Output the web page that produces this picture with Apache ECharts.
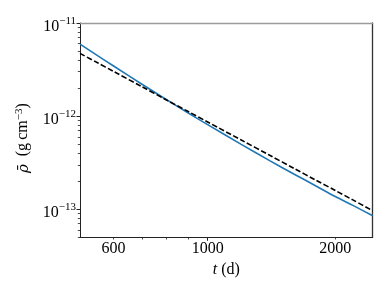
<!DOCTYPE html>
<html><head><meta charset="utf-8">
<script src="https://cdn.jsdelivr.net/npm/echarts@6/dist/echarts.min.js"></script>
<style>html,body{margin:0;padding:0;background:#fff}#c{width:390px;height:293px}</style>
</head><body><div id="c"></div>
<script>
// Data (t in days, mean density in g cm^-3)
const tDays = [500, 550, 600, 700, 800, 900, 1000, 1200, 1400, 1600, 1800, 2000, 2200, 2450];
const rhoBlue = [5.94e-12, 4.46e-12, 3.45e-12, 2.20e-12, 1.50e-12, 1.08e-12, 8.11e-13, 4.98e-13, 3.33e-13, 2.38e-13, 1.78e-13, 1.37e-13, 1.10e-13, 8.52e-14];
const rhoDashed = [4.72e-12, 3.74e-12, 3.02e-12, 2.07e-12, 1.49e-12, 1.12e-12, 8.65e-13, 5.54e-13, 3.80e-13, 2.74e-13, 2.05e-13, 1.59e-13, 1.26e-13, 9.65e-14];

const xRange = [500, 2450];
const yRange = [5e-14, 1e-11];
const xMajorTicks = [1000];
const xMinorTicks = [600, 700, 800, 900, 2000];
const xTickLabels = [600, 1000, 2000];
const yMajorTicks = [1e-11, 1e-12, 1e-13];
const yMinorTicks = [9e-12, 8e-12, 7e-12, 6e-12, 5e-12, 4e-12, 3e-12, 2e-12,
                     9e-13, 8e-13, 7e-13, 6e-13, 5e-13, 4e-13, 3e-13, 2e-13,
                     9e-14, 8e-14, 7e-14, 6e-14, 5e-14];

const FONT = "'Liberation Serif', 'DejaVu Serif', serif";
const AX = '#222';

const chart = echarts.init(document.getElementById('c'), null, {renderer: 'canvas'});

const baseX = {type: 'log', logBase: 10, min: xRange[0], max: xRange[1], gridIndex: 0,
  splitLine: {show: false}, minorTick: {show: false}, minorSplitLine: {show: false}};
const baseY = {type: 'log', logBase: 10, min: yRange[0], max: yRange[1], gridIndex: 0,
  splitLine: {show: false}, minorTick: {show: false}, minorSplitLine: {show: false}};

chart.setOption({
  animation: false,
  backgroundColor: '#fff',
  grid: {left: 80, top: 23, right: 17.3, bottom: 55.7, containLabel: false},
  xAxis: [
    Object.assign({}, baseX, {
      position: 'bottom',
      axisLine: {show: true, lineStyle: {color: AX, width: 1}},
      axisTick: {show: true, inside: false, length: 3.5, customValues: xMajorTicks, lineStyle: {color: AX, width: 1}},
      axisLabel: {show: true, customValues: xTickLabels, margin: 3, fontFamily: FONT, fontSize: 16, color: '#000',
        formatter: v => String(Math.round(v))},
      name: '{i|t} (d)', nameLocation: 'middle', nameGap: 24,
      nameTextStyle: {fontFamily: FONT, fontSize: 16, color: '#000',
        rich: {i: {fontFamily: FONT, fontSize: 16, fontStyle: 'italic', color: '#000'}}}
    }),
    Object.assign({}, baseX, {
      position: 'top',
      axisLine: {show: true, lineStyle: {color: '#9a9a9a', width: 1.3}},
      axisTick: {show: false}, axisLabel: {show: false}
    }),
    Object.assign({}, baseX, {
      position: 'bottom',
      axisLine: {show: false},
      axisTick: {show: true, length: 2.2, customValues: xMinorTicks, lineStyle: {color: AX, width: 0.8}},
      axisLabel: {show: false}
    })
  ],
  yAxis: [
    Object.assign({}, baseY, {
      position: 'left',
      axisLine: {show: true, lineStyle: {color: AX, width: 1}},
      axisTick: {show: true, length: 3.5, customValues: yMajorTicks, lineStyle: {color: AX, width: 1}},
      axisLabel: {show: true, customValues: yMajorTicks, margin: 4, padding: [4, 0, 0, 0],
        formatter: v => '{b|10}{s|\u2212' + Math.abs(Math.round(Math.log10(v))) + '}',
        rich: {
          b: {fontFamily: FONT, fontSize: 16, color: '#000', verticalAlign: 'bottom'},
          s: {fontFamily: FONT, fontSize: 11, color: '#000', verticalAlign: 'bottom', padding: [0, 0, 8, 0]}
        }},
      name: '{i|\u03C1\u0304}  (g\u2009cm{s|\u22123}){sp|}', nameLocation: 'middle', nameRotate: 90, nameGap: 43,
      nameTextStyle: {fontFamily: FONT, fontSize: 16, color: '#000',
        rich: {
          i: {fontFamily: "'DejaVu Serif', serif", fontSize: 15, fontStyle: 'italic', color: '#000', verticalAlign: 'bottom'},
          s: {fontFamily: FONT, fontSize: 11, color: '#000', verticalAlign: 'bottom', padding: [0, 0, 7, 0]},
          sp: {width: 16, fontSize: 16}
        }}
    }),
    Object.assign({}, baseY, {
      position: 'left',
      axisLine: {show: false},
      axisTick: {show: true, length: 2.2, customValues: yMinorTicks, lineStyle: {color: AX, width: 0.8}},
      axisLabel: {show: false}
    }),
    Object.assign({}, baseY, {
      position: 'right',
      axisLine: {show: true, lineStyle: {color: '#333', width: 1.3}},
      axisTick: {show: false}, axisLabel: {show: false}
    })
  ],
  series: [
    {type: 'line', xAxisIndex: 0, yAxisIndex: 0, showSymbol: false, smooth: 0.3,
     data: tDays.map((t, i) => [t, rhoBlue[i]]),
     lineStyle: {color: '#1f77b4', width: 1.6}, z: 2},
    {type: 'line', xAxisIndex: 0, yAxisIndex: 0, showSymbol: false, smooth: 0.3,
     data: tDays.map((t, i) => [t, rhoDashed[i]]),
     lineStyle: {color: '#000', width: 1.6, type: [5.5, 2.4]}, z: 3}
  ]
});
</script>
</body></html>
